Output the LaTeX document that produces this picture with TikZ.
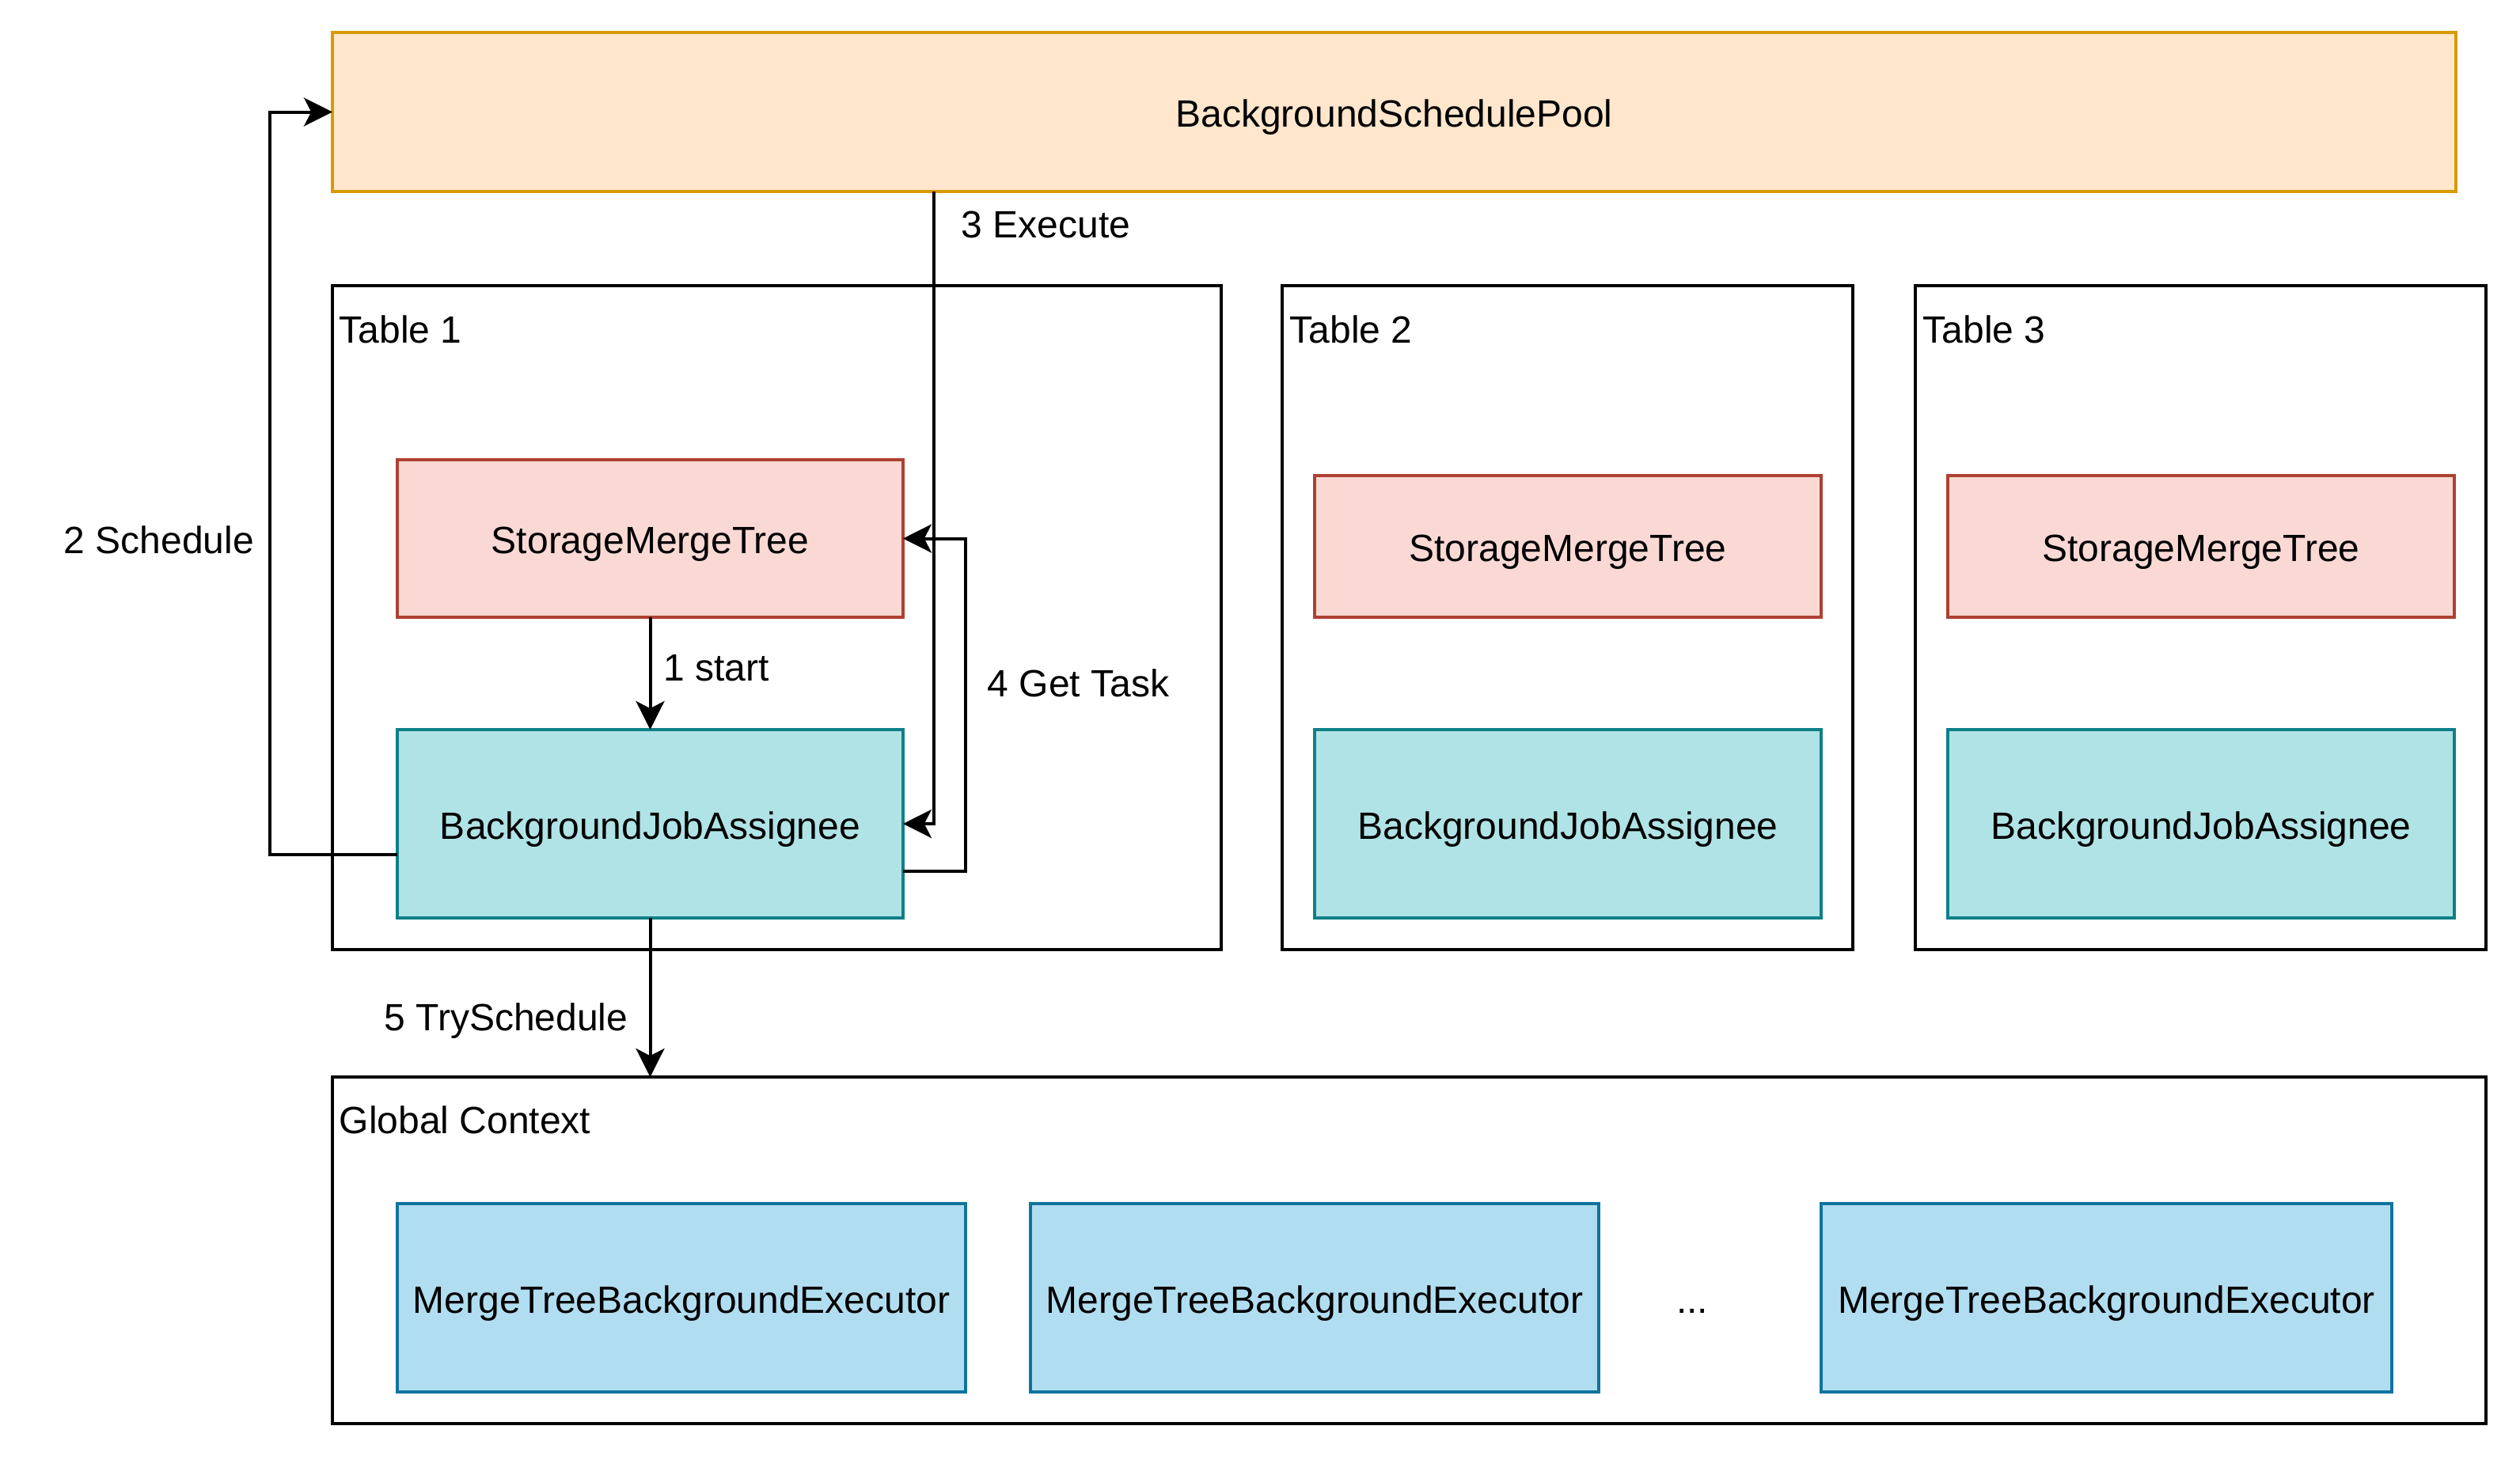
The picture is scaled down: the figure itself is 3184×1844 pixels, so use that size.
\documentclass[tikz,border=0pt]{standalone}
\usepackage{fontspec}
\setmainfont{Liberation Sans}
\usetikzlibrary{arrows.meta}
\definecolor{poolfill}{HTML}{FFE6CC}
\definecolor{poolline}{HTML}{D79B00}
\definecolor{smtfill}{HTML}{FAD9D5}
\definecolor{smtline}{HTML}{AE4132}
\definecolor{bjafill}{HTML}{B0E3E6}
\definecolor{bjaline}{HTML}{0E8088}
\definecolor{exfill}{HTML}{B1DDF0}
\definecolor{exline}{HTML}{10739E}
\tikzset{
  every node/.style={font=\fontsize{12}{14}\selectfont},
  box/.style={draw, line width=1pt, inner sep=0pt, outer sep=0pt, text height=9.5pt, text depth=0pt},
  pool/.style={box, fill=poolfill, draw=poolline, minimum width=670.75pt, minimum height=50.25pt},
  tbl/.style={box, draw=black, line width=1.1pt, minimum width=180.25pt, minimum height=209.75pt},
  smt/.style={box, fill=smtfill, draw=smtline, minimum width=159.75pt},
  bja/.style={box, fill=bjafill, draw=bjaline, minimum width=159.75pt, minimum height=59.5pt},
  exec/.style={box, fill=exfill, draw=exline, minimum width=179.5pt, minimum height=59.5pt},
  lbl/.style={inner sep=0pt, anchor=west},
  arr/.style={draw=black, line width=1pt, -{Stealth[length=9pt,width=9pt,inset=2.3pt]}},
}
\begin{document}
\begin{tikzpicture}[x=0.25pt,y=-0.25pt]
\useasboundingbox (0,0) rectangle (3184,1844);
% containers
\node[tbl, minimum width=280.75pt] (t1) at (981.5,780.5) {};
\node[tbl] (t2) at (1980.5,780.5) {};
\node[tbl] (t3) at (2780.5,780.5) {};
\node[box, draw=black, line width=1.1pt, minimum width=680.25pt, minimum height=109.5pt] (gc) at (1780.5,1580) {};
\node[lbl] (t1l) at (428,416) {Table 1};
\node[lbl] (t2l) at (1629,416) {Table 2};
\node[lbl] (t3l) at (2429,416) {Table 3};
\node[lbl] (gcl) at (428,1415) {Global Context};
% pool
\node[pool] (bsp) at (1761.5,141.5) {BackgroundSchedulePool};
% table 1
\node[smt, minimum height=49.75pt] (smt1) at (821.5,680.5) {StorageMergeTree};
\node[bja] (bja1) at (821.5,1041) {BackgroundJobAssignee};
% table 2, 3
\node[smt, minimum width=160pt, minimum height=44.75pt] (smt2) at (1981,690.5) {StorageMergeTree};
\node[bja, minimum width=160pt] (bja2) at (1981,1041) {BackgroundJobAssignee};
\node[smt, minimum width=160pt, minimum height=44.75pt] (smt3) at (2781,690.5) {StorageMergeTree};
\node[bja, minimum width=160pt] (bja3) at (2781,1041) {BackgroundJobAssignee};
% executors
\node[exec] (ex1) at (861,1640) {MergeTreeBackgroundExecutor};
\node[exec] (ex2) at (1661,1640) {MergeTreeBackgroundExecutor};
\node[exec, minimum width=180.25pt] (ex3) at (2661.5,1640) {MergeTreeBackgroundExecutor};
\node[text height=9.5pt, text depth=0pt] (dots) at (2138,1640) {...};
% connectors
\draw[arr] (smt1.south) -- node[lbl, pos=0.45, xshift=3.75pt] (l1) {1 start} (bja1.north);
\draw[arr] ([yshift=-9.75pt]bja1.west) -- ++(-161,0) |- (bsp.west);
\node (l2) at (201,682) {2 Schedule};
\coordinate (x3) at (1180,0);
\draw[arr] (bsp.south -| x3) |- (bja1.east);
\node[lbl] (l3) at (1214,284) {3 Execute};
\draw[arr] ([yshift=-15pt]bja1.east) -- ++(79,0) |- (smt1.east);
\node[lbl] (l4) at (1247,863) {4 Get Task};
\draw[arr] (bja1.south) -- (bja1.south |- gc.north);
\node[inner sep=0pt, anchor=east, text height=9.5pt, text depth=0pt] (l5) at (794,1283) {5 TrySchedule};
\end{tikzpicture}
\end{document}
